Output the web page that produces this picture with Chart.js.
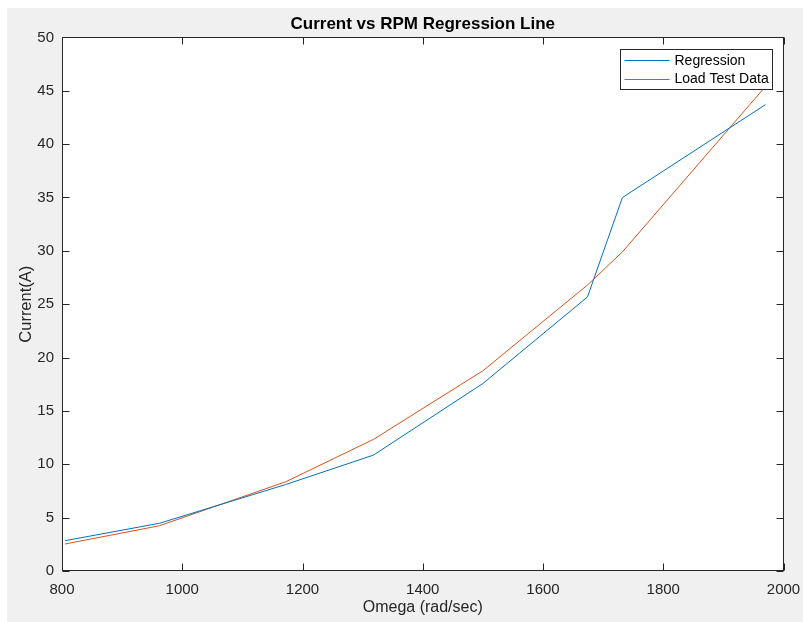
<!DOCTYPE html>
<html>
<head>
<meta charset="utf-8">
<title>Current vs RPM Regression Line</title>
<script src="https://cdn.jsdelivr.net/npm/chart.js@4.4.1/dist/chart.umd.min.js"></script>
<style>
html, body { margin: 0; padding: 0; background: #fff; }
#wrap { width: 803px; height: 622px; }
</style>
</head>
<body>
<div id="wrap"><canvas id="rpmChart"></canvas></div>
<script>
// speed points (rad/sec)
const omega = [805, 962, 1172, 1318, 1500, 1674, 1732, 1970];
// current (A) from the fitted regression and from the load test
const regressionCurrent = [2.84, 4.47, 8.1, 10.86, 17.57, 25.68, 34.99, 43.7];
const loadTestCurrent = [2.53, 4.24, 8.36, 12.33, 18.76, 26.8, 29.9, 45.4];

const xTicks = [800, 1000, 1200, 1400, 1600, 1800, 2000];
const yTicks = [0, 5, 10, 15, 20, 25, 30, 35, 40, 45, 50];

const AXIS = "#262626";
const FONT = "'Liberation Sans', Arial, Helvetica, sans-serif";
const TICK_LEN = 7;

const points = ys => omega.map((x, i) => ({ x: x, y: ys[i] }));

// grey figure, white axes, boxed frame with inward ticks, legend in the corner
const frame = {
  id: "frame",
  beforeDraw(chart) {
    const { ctx, chartArea: a } = chart;
    ctx.save();
    ctx.fillStyle = "#fff";
    ctx.fillRect(0, 0, chart.width, chart.height);
    ctx.fillStyle = "#f0f0f0";
    ctx.fillRect(7, 8, chart.width - 7, chart.height - 8);
    ctx.fillStyle = "#fff";
    ctx.fillRect(a.left, a.top, a.right - a.left, a.bottom - a.top);
    ctx.restore();
  },
  afterDraw(chart) {
    const { ctx, chartArea: a, scales } = chart;
    ctx.save();
    ctx.strokeStyle = AXIS;
    ctx.lineWidth = 1;
    const L = Math.round(a.left) + 0.5, R = Math.round(a.right) - 0.5;
    const T = Math.round(a.top) + 0.5, B = Math.round(a.bottom) - 0.5;
    ctx.strokeRect(L, T, R - L, B - T);
    ctx.beginPath();
    xTicks.forEach(v => {
      const px = Math.round(scales.x.getPixelForValue(v)) + 0.5;
      ctx.moveTo(px, B); ctx.lineTo(px, B - TICK_LEN);
      ctx.moveTo(px, T); ctx.lineTo(px, T + TICK_LEN);
    });
    yTicks.forEach(v => {
      const py = Math.round(scales.y.getPixelForValue(v)) + 0.5;
      ctx.moveTo(L, py); ctx.lineTo(L + TICK_LEN, py);
      ctx.moveTo(R, py); ctx.lineTo(R - TICK_LEN, py);
    });
    ctx.stroke();

    // legend box
    const sets = chart.data.datasets;
    ctx.font = "14px " + FONT;
    const textW = Math.max(...sets.map(d => ctx.measureText(d.label).width));
    const lineW = 45, rowH = 18.5;
    const boxW = Math.round(5 + lineW + 4 + textW + 4);
    const boxH = 40;
    const bx = Math.round(a.right) - 12 - boxW + 0.5;
    const by = Math.round(a.top) + 12 + 0.5;
    ctx.fillStyle = "#fff";
    ctx.fillRect(bx, by, boxW, boxH);
    ctx.strokeStyle = AXIS;
    ctx.strokeRect(bx, by, boxW, boxH);
    sets.forEach((d, i) => {
      const cy = by + 10.5 + i * rowH;
      ctx.strokeStyle = d.borderColor;
      ctx.beginPath();
      ctx.moveTo(bx + 4, Math.round(cy) + 0.5);
      ctx.lineTo(bx + 4 + lineW, Math.round(cy) + 0.5);
      ctx.stroke();
      ctx.fillStyle = "#000";
      ctx.textBaseline = "middle";
      ctx.textAlign = "left";
      ctx.fillText(d.label, bx + 5 + lineW + 4, cy + 1);
    });
    ctx.restore();
  }
};

// keep the plot box fixed: no extra room for overhanging end labels
const noOverhang = s => {
  s.paddingLeft = 0; s.paddingRight = 0;
  s.paddingTop = 0; s.paddingBottom = 0;
};

new Chart(document.getElementById("rpmChart"), {
  type: "line",
  data: {
    datasets: [
      {
        label: "Regression",
        data: points(regressionCurrent),
        borderColor: "#0072BD",
        borderWidth: 1,
        pointRadius: 0,
        tension: 0
      },
      {
        label: "Load Test Data",
        data: points(loadTestCurrent),
        borderColor: "#D95319",
        borderWidth: 1,
        pointRadius: 0,
        tension: 0
      }
    ]
  },
  options: {
    responsive: true,
    maintainAspectRatio: false,
    animation: false,
    layout: { padding: { left: 7, top: 8, right: 19.5, bottom: 0 } },
    plugins: {
      legend: { display: false },
      tooltip: { enabled: false },
      title: {
        display: true,
        fullSize: false,
        text: "Current vs RPM Regression Line",
        color: "#000",
        font: { family: FONT, size: 17, weight: "bold" },
        padding: { top: 6, bottom: 3 }
      }
    },
    scales: {
      x: {
        type: "linear",
        min: 800,
        max: 2000,
        afterBuildTicks: s => { s.ticks = xTicks.map(v => ({ value: v })); },
        afterFit: s => { s.height = 51; noOverhang(s); },
        grid: { display: false, drawTicks: false },
        border: { display: false },
        ticks: {
          color: AXIS,
          padding: 10,
          maxRotation: 0,
          font: { family: FONT, size: 15 },
          callback: v => String(v)
        },
        title: {
          display: true,
          text: "Omega (rad/sec)",
          color: AXIS,
          font: { family: FONT, size: 16 },
          padding: { top: 0, bottom: 5 }
        }
      },
      y: {
        type: "linear",
        min: 0,
        max: 50,
        afterBuildTicks: s => { s.ticks = yTicks.map(v => ({ value: v })); },
        afterFit: s => { s.width = 55; noOverhang(s); },
        grid: { display: false, drawTicks: false },
        border: { display: false },
        ticks: {
          color: AXIS,
          padding: 8,
          font: { family: FONT, size: 15 },
          callback: v => String(v)
        },
        title: {
          display: true,
          text: "Current(A)",
          color: AXIS,
          font: { family: FONT, size: 16.5 },
          padding: { top: 10, bottom: 0 }
        }
      }
    }
  },
  plugins: [frame]
});
</script>
</body>
</html>
